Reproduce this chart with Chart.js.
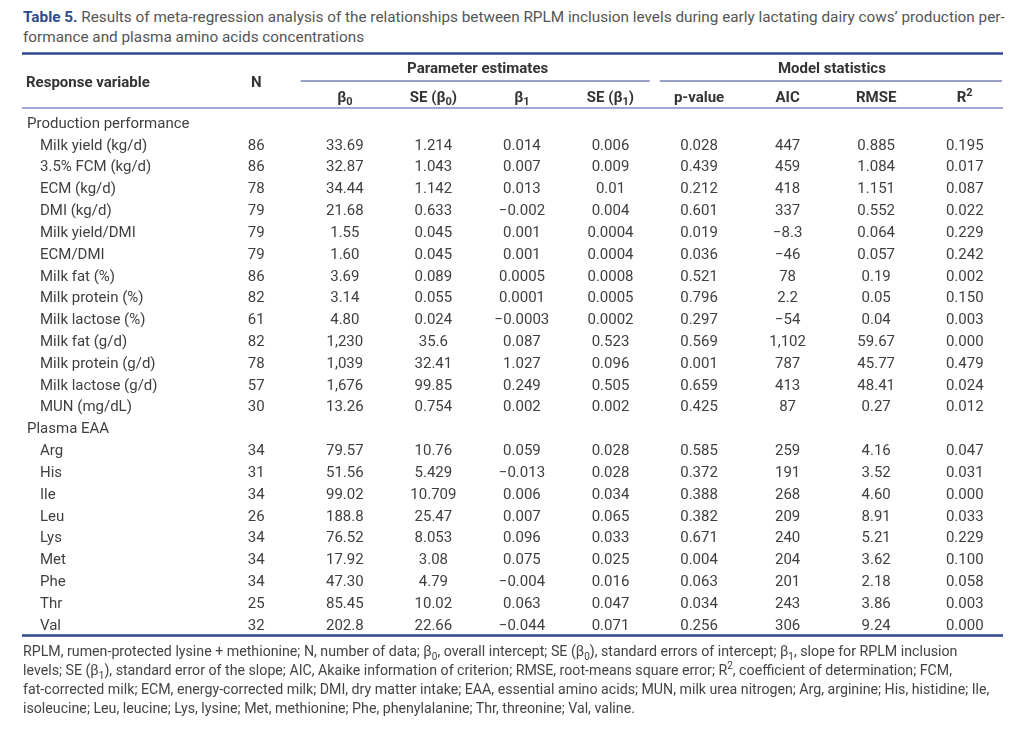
<!DOCTYPE html>
<html>
<head>
<meta charset="utf-8">
<script src="https://cdn.jsdelivr.net/npm/chart.js@4.4.1/dist/chart.umd.min.js"></script>
<style>
  body { margin: 0; background: #fff; font-family: Roboto, "Noto Sans", sans-serif; }
  #wrap { position: relative; width: 1024px; height: 744px; overflow: hidden; }
  #table { position: absolute; left: 0; top: 0; }
  .title { position: absolute; left: 23px; top: 7px; width: 1000px; font-size: 15.3px; line-height: 20px; color: #555; white-space: nowrap; }
  .title b { color: #2e4a8e; }
  .note { position: absolute; left: 23px; top: 642px; width: 1000px; font-size: 14.2px; line-height: 19px; color: #444; white-space: nowrap; }
  .note sub { font-size: 10px; line-height: 0; }
  .note sup { font-size: 10px; line-height: 0; }
</style>
</head>
<body>
<div id="wrap">
  <div class="title"><b>Table 5.</b> Results of meta-regression analysis of the relationships between RPLM inclusion levels during early lactating dairy cows’ production per-<br>formance and plasma amino acids concentrations</div>
  <canvas id="table" width="1024" height="744"></canvas>
  <div class="note">RPLM, rumen-protected lysine + methionine; N, number of data; β<sub>0</sub>, overall intercept; SE (β<sub>0</sub>), standard errors of intercept; β<sub>1</sub>, slope for RPLM inclusion<br>levels; SE (β<sub>1</sub>), standard error of the slope; AIC, Akaike information of criterion; RMSE, root-means square error; R<sup>2</sup>, coefficient of determination; FCM,<br>fat-corrected milk; ECM, energy-corrected milk; DMI, dry matter intake; EAA, essential amino acids; MUN, milk urea nitrogen; Arg, arginine; His, histidine; Ile,<br>isoleucine; Leu, leucine; Lys, lysine; Met, methionine; Phe, phenylalanine; Thr, threonine; Val, valine.</div>
</div>
<script>
/* ==========================================
   TABLE DATA
========================================== */

// Row groups
const groupProd = "Production performance";
const groupEaa = "Plasma EAA";

const prodVars = [
    "Milk yield (kg/d)", "3.5% FCM (kg/d)", "ECM (kg/d)", "DMI (kg/d)",
    "Milk yield/DMI", "ECM/DMI", "Milk fat (%)", "Milk protein (%)",
    "Milk lactose (%)", "Milk fat (g/d)", "Milk protein (g/d)",
    "Milk lactose (g/d)", "MUN (mg/dL)"
];
const eaaVars = ["Arg", "His", "Ile", "Leu", "Lys", "Met", "Phe", "Thr", "Val"];

// Column values (production rows first, then plasma EAA rows)
const nCol = ["86","86","78","79","79","79","86","82","61","82","78","57","30",
              "34","31","34","26","34","34","34","25","32"];
const b0Col = ["33.69","32.87","34.44","21.68","1.55","1.60","3.69","3.14","4.80","1,230","1,039","1,676","13.26",
               "79.57","51.56","99.02","188.8","76.52","17.92","47.30","85.45","202.8"];
const seB0Col = ["1.214","1.043","1.142","0.633","0.045","0.045","0.089","0.055","0.024","35.6","32.41","99.85","0.754",
                 "10.76","5.429","10.709","25.47","8.053","3.08","4.79","10.02","22.66"];
const b1Col = ["0.014","0.007","0.013","−0.002","0.001","0.001","0.0005","0.0001","−0.0003","0.087","1.027","0.249","0.002",
               "0.059","−0.013","0.006","0.007","0.096","0.075","−0.004","0.063","−0.044"];
const seB1Col = ["0.006","0.009","0.01","0.004","0.0004","0.0004","0.0008","0.0005","0.0002","0.523","0.096","0.505","0.002",
                 "0.028","0.028","0.034","0.065","0.033","0.025","0.016","0.047","0.071"];
const pCol = ["0.028","0.439","0.212","0.601","0.019","0.036","0.521","0.796","0.297","0.569","0.001","0.659","0.425",
              "0.585","0.372","0.388","0.382","0.671","0.004","0.063","0.034","0.256"];
const aicCol = ["447","459","418","337","−8.3","−46","78","2.2","−54","1,102","787","413","87",
                "259","191","268","209","240","204","201","243","306"];
const rmseCol = ["0.885","1.084","1.151","0.552","0.064","0.057","0.19","0.05","0.04","59.67","45.77","48.41","0.27",
                 "4.16","3.52","4.60","8.91","5.21","3.62","2.18","3.86","9.24"];
const r2Col = ["0.195","0.017","0.087","0.022","0.229","0.242","0.002","0.150","0.003","0.000","0.479","0.024","0.012",
               "0.047","0.031","0.000","0.033","0.229","0.100","0.058","0.003","0.000"];

// Column keys and header labels (parts: sub / sup)
const colKeys = ["N", "b0", "seb0", "b1", "seb1", "p", "aic", "rmse", "r2"];
const colHeads = [
    [{ t: "N" }],
    [{ t: "β" }, { t: "0", sub: true }],
    [{ t: "SE (β" }, { t: "0", sub: true }, { t: ")" }],
    [{ t: "β" }, { t: "1", sub: true }],
    [{ t: "SE (β" }, { t: "1", sub: true }, { t: ")" }],
    [{ t: "p-value" }],
    [{ t: "AIC" }],
    [{ t: "RMSE" }],
    [{ t: "R" }, { t: "2", sup: true }]
];
const columns = [nCol, b0Col, seB0Col, b1Col, seB1Col, pCol, aicCol, rmseCol, r2Col];


/* ==========================================
   BUILD ROWS / POINTS
========================================== */

const rowKeys = [groupProd, ...prodVars, groupEaa, ...eaaVars];
const dataRows = [...prodVars, ...eaaVars];

const cells = [];
columns.forEach((col, c) => {
    col.forEach((txt, r) => {
        cells.push({ x: colKeys[c], y: dataRows[r], t: txt });
    });
});


/* ==========================================
   DRAWING PLUGIN
========================================== */

const TEXT = "#3f3f3f";
const NAVY = "#2f4590";
const FONT = "Roboto, 'Noto Sans', sans-serif";

function drawParts(ctx, parts, cx, cy, size, weight) {
    const main = weight + " " + size + "px " + FONT;
    const small = weight + " " + Math.round(size * 0.7) + "px " + FONT;
    let total = 0;
    parts.forEach(p => {
        ctx.font = (p.sub || p.sup) ? small : main;
        total += ctx.measureText(p.t).width;
    });
    let x = cx - total / 2;
    ctx.textAlign = "left";
    parts.forEach(p => {
        ctx.font = (p.sub || p.sup) ? small : main;
        const dy = p.sub ? 4 : (p.sup ? -5 : 0);
        ctx.fillText(p.t, x, cy + dy);
        x += ctx.measureText(p.t).width;
    });
}

function hline(ctx, x1, x2, y, w, color) {
    ctx.beginPath();
    ctx.strokeStyle = color;
    ctx.lineWidth = w;
    ctx.moveTo(x1, y);
    ctx.lineTo(x2, y);
    ctx.stroke();
}

const tablePlugin = {
    id: "tableText",
    afterDatasetsDraw(chart) {
        const ctx = chart.ctx;
        const xs = chart.scales.x;
        const ys = chart.scales.y;
        const area = chart.chartArea;

        ctx.save();
        ctx.fillStyle = TEXT;
        ctx.textBaseline = "middle";

        // cells
        const meta = chart.getDatasetMeta(0);
        ctx.font = "15px " + FONT;
        ctx.textAlign = "center";
        meta.data.forEach((pt, i) => {
            ctx.fillText(cells[i].t, pt.x, pt.y);
        });

        // row labels
        ctx.textAlign = "left";
        rowKeys.forEach(label => {
            const y = ys.getPixelForValue(rowKeys.indexOf(label));
            const isGroup = label === groupProd || label === groupEaa;
            ctx.fillText(label, isGroup ? 27 : 40, y);
        });

        // headers
        ctx.fillStyle = "#333";
        const px = k => xs.getPixelForValue(colKeys.indexOf(k));
        const headTop = area.top - 55;
        const headMid = area.top - 41;
        const headSub = area.top - 26;

        ctx.font = "bold 15px " + FONT;
        ctx.textAlign = "left";
        ctx.fillText("Response variable", 26, headMid);
        ctx.textAlign = "center";
        ctx.fillText("Parameter estimates", (px("b0") + px("seb1")) / 2, headTop);
        ctx.fillText("Model statistics", (px("p") + px("r2")) / 2, headTop);

        colHeads.forEach((parts, c) => {
            drawParts(ctx, parts, px(colKeys[c]), c === 0 ? headMid : headSub, 15, "bold");
        });

        // rules
        const split1 = (px("N") + px("b0")) / 2;
        const split2 = (px("seb1") + px("p")) / 2;
        hline(ctx, 22, 1003, area.top - 70.5, 2.5, NAVY);
        hline(ctx, split1, split2 - 5, area.top - 43, 1.2, NAVY);
        hline(ctx, split2 + 5, 1002, area.top - 43, 1.2, NAVY);
        hline(ctx, 22, 1003, area.top - 16, 1.5, "#7d8dc2");
        hline(ctx, 22, 1003, area.bottom + 9.5, 2.5, NAVY);

        ctx.restore();
    }
};


/* ==========================================
   CHART
========================================== */

document.fonts.ready.then(() => {
new Chart(document.getElementById("table"), {

    type: "scatter",

    data: {
        datasets: [{
            data: cells,
            pointRadius: 0,
            pointHoverRadius: 0
        }]
    },

    options: {

        responsive: false,

        animation: false,

        events: [],

        layout: {
            padding: { top: 124, bottom: 118, left: 212, right: 15 }
        },

        plugins: {
            legend: { display: false },
            tooltip: { enabled: false }
        },

        scales: {

            x: {
                type: "category",
                labels: colKeys,
                offset: true,
                display: false
            },

            y: {
                type: "category",
                labels: rowKeys,
                offset: false,
                display: false
            }

        }

    },

    plugins: [tablePlugin]

});
});
</script>
</body>
</html>
